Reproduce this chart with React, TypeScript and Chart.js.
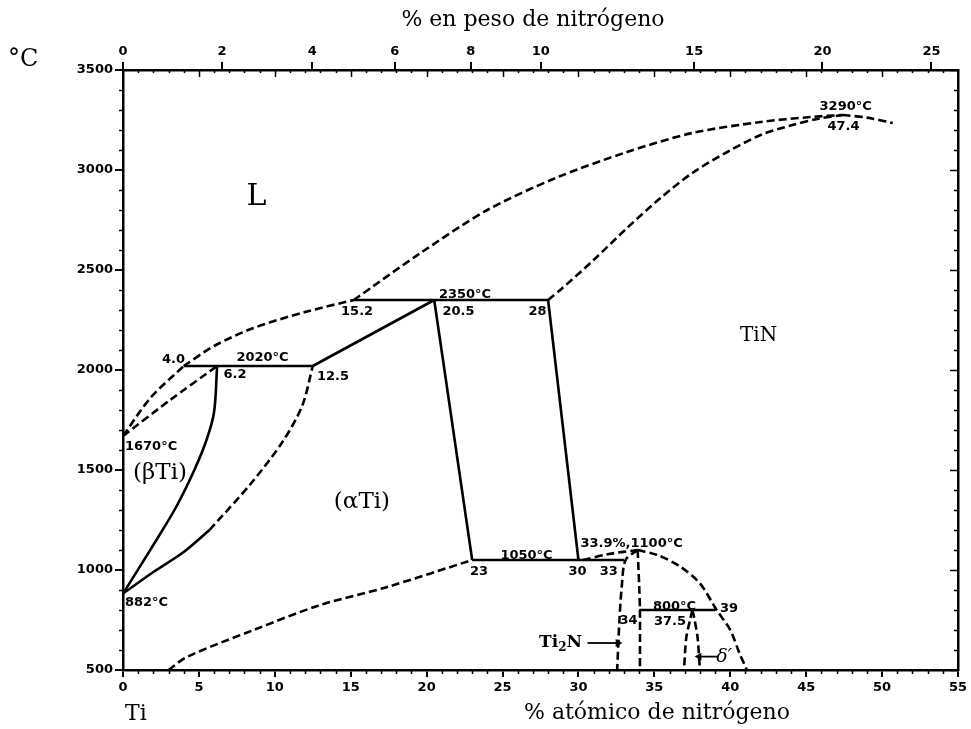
import React, { useEffect, useRef } from 'react';
import { Chart, registerables } from 'chart.js';

Chart.register(...registerables);

// ---------- axes ----------
const X_MIN = 0;
const X_MAX = 55; // at.% N
const Y_MIN = 500;
const Y_MAX = 3500; // °C
const atomicStep = 5;
const tempStep = 500;
const weightTickLabels = [0, 2, 4, 6, 8, 10, 15, 20, 25]; // wt.% N (top axis)
const M_TI = 47.867;
const M_N = 14.007;

// ---------- curves: [at.% N, °C] ----------
const liqBeta: number[][] = [[0, 1670], [1.8, 1860], [4.0, 2020]];
const liqAlpha: number[][] = [[4.0, 2020], [6.0, 2120], [8.6, 2210], [12.0, 2290], [15.2, 2350]];
const liqTiN: number[][] = [[15.2, 2350], [19.6, 2585], [24.0, 2800], [28.5, 2960], [33.2, 3090], [37.5, 3185], [42.0, 3240], [45.3, 3265], [47.4, 3275]];
const liqTiNRight: number[][] = [[47.4, 3275], [49.0, 3262], [50.7, 3235]];
const solTiN: number[][] = [[28.0, 2350], [28.8, 2400], [31.0, 2550], [33.2, 2710], [35.4, 2860], [37.5, 2985], [39.8, 3090], [42.0, 3175], [44.1, 3225], [45.9, 3258], [47.4, 3275]];
const solBeta: number[][] = [[0, 1670], [3.1, 1850], [6.2, 2020]];
const betaSolvus: number[][] = [[0, 882], [2.2, 1150], [3.5, 1315], [4.7, 1500], [5.5, 1650], [6.0, 1790], [6.2, 2020]];
const alphaTransusSolid: number[][] = [[0, 882], [2.0, 990], [4.0, 1090], [5.7, 1200]];
const alphaTransusDashed: number[][] = [[5.7, 1200], [8.4, 1430], [10.5, 1640], [11.8, 1820], [12.5, 2020]];
const iso2020: number[][] = [[4.0, 2020], [12.5, 2020]];
const iso2350: number[][] = [[15.2, 2350], [28.0, 2350]];
const iso1050: number[][] = [[23, 1050], [33, 1050]];
const iso800: number[][] = [[34, 800], [39, 800]];
const alphaLiq: number[][] = [[12.5, 2020], [20.5, 2350]];
const alphaRight: number[][] = [[20.5, 2350], [23, 1050]];
const tinLeft: number[][] = [[28, 2350], [30, 1050]];
const alphaSolvus: number[][] = [[3, 500], [4.2, 565], [8.6, 700], [13.0, 825], [17.4, 915], [23, 1050]];
const tinLowLeft: number[][] = [[30.3, 1050], [32.0, 1080], [33.9, 1100]];
const tinDome: number[][] = [[33.9, 1100], [35.2, 1075], [36.7, 1017], [38.0, 933], [39.1, 800], [40.0, 700], [40.6, 585], [41.1, 500]];
const ti2nLeft: number[][] = [[33.9, 1100], [33.1, 1050], [32.85, 915], [32.7, 750], [32.55, 500]];
const ti2nRight: number[][] = [[33.9, 1100], [34.0, 920], [34.05, 800], [34.05, 500]];
const deltaLeft: number[][] = [[37.5, 800], [37.35, 750], [37.1, 660], [36.95, 500]];
const deltaRight: number[][] = [[37.5, 800], [37.65, 750], [37.85, 660], [38.0, 500]];
const ti2nArrow: number[][] = [[30.6, 635], [32.6, 635]];
const deltaArrow: number[][] = [[39.2, 567], [37.95, 567]];

// ---------- annotations (text, at.% N, °C) ----------
const numLabels: [string, number, number][] = [
  ['1670°C', 0.13, 1615],
  ['882°C', 0.13, 835],
  ['4.0', 3.33, 2050],
  ['2020°C', 9.19, 2060],
  ['6.2', 7.38, 1975],
  ['12.5', 13.83, 1965],
  ['15.2', 15.42, 2290],
  ['2350°C', 22.53, 2375],
  ['20.5', 22.1, 2290],
  ['28', 27.3, 2290],
  ['3290°C', 47.6, 3315],
  ['47.4', 47.46, 3215],
  ['1050°C', 26.58, 1070],
  ['23', 23.45, 990],
  ['30', 29.94, 990],
  ['33', 32.0, 990],
  ['33.9%,1100°C', 33.5, 1130],
  ['34', 33.3, 745],
  ['800°C', 36.33, 815],
  ['37.5', 36.03, 740],
  ['39', 39.92, 805],
];
const phaseLabels: [string, number, number, number][] = [
  ['L', 8.79, 2865, 30],
  ['TiN', 41.86, 2170, 20],
  ['(βTi)', 2.44, 1485, 23],
  ['(αTi)', 15.74, 1340, 23],
];

const wtToAt = (w: number) => {
  const n = w / M_N;
  const t = (100 - w) / M_TI;
  return (n / (n + t)) * 100;
};

const pts = (arr: number[][]) => arr.map(([x, y]) => ({ x, y }));
const line = (arr: number[][], dashed: boolean, tension = 0) => ({
  data: pts(arr),
  showLine: true,
  borderColor: '#000',
  borderWidth: 2.6,
  borderDash: dashed ? [8, 4] : [],
  borderCapStyle: 'butt' as const,
  pointRadius: 0,
  tension,
  fill: false,
});
const arrow = (arr: number[][], rot: number) => ({
  data: pts(arr),
  showLine: true,
  borderColor: '#000',
  borderWidth: 1.8,
  pointRadius: [0, 4.5],
  pointStyle: 'triangle',
  pointRotation: rot,
  pointBackgroundColor: '#000',
  pointBorderColor: '#000',
  pointBorderWidth: 0,
  tension: 0,
  fill: false,
});

const SANS_BOLD = 'bold 13px "DejaVu Sans"';
const SERIF = '"DejaVu Serif"';

const decorPlugin = {
  id: 'decor',
  afterDraw(chart: any) {
    const { ctx, chartArea } = chart;
    const { left, right, top, bottom } = chartArea;
    const xs = chart.scales.x;
    const ys = chart.scales.y;
    ctx.save();
    ctx.strokeStyle = '#000';
    ctx.fillStyle = '#000';
    ctx.lineWidth = 1.5;
    ctx.beginPath();
    for (let a = X_MIN; a <= X_MAX; a += 1) {
      const px = Math.round(xs.getPixelForValue(a)) + 0.5;
      if (a % atomicStep !== 0) {
        ctx.moveTo(px, bottom);
        ctx.lineTo(px, bottom + 4);
        ctx.moveTo(px, top);
        ctx.lineTo(px, top + 3);
      } else if (a !== X_MIN && a !== X_MAX) {
        ctx.moveTo(px, top);
        ctx.lineTo(px, top + 7);
      }
    }
    for (let t = Y_MIN; t <= Y_MAX; t += 100) {
      const py = Math.round(ys.getPixelForValue(t)) + 0.5;
      if (t % tempStep !== 0) {
        ctx.moveTo(left - 4, py);
        ctx.lineTo(left, py);
        ctx.moveTo(right - 4, py);
        ctx.lineTo(right, py);
      } else {
        ctx.moveTo(right - 8, py);
        ctx.lineTo(right, py);
      }
    }
    ctx.stroke();

    // numeric annotations
    ctx.font = SANS_BOLD;
    ctx.textBaseline = 'middle';
    for (const [txt, a, t] of numLabels) {
      const px = xs.getPixelForValue(a);
      const py = ys.getPixelForValue(t);
      const isLeft = a < 0.5;
      ctx.textAlign = isLeft ? 'left' : 'center';
      ctx.fillText(txt, px, py);
    }
    // phase labels
    ctx.textAlign = 'center';
    for (const [txt, a, t, size] of phaseLabels) {
      ctx.font = `${size}px ${SERIF}`;
      ctx.fillText(txt, xs.getPixelForValue(a), ys.getPixelForValue(t));
    }
    // Ti2N
    {
      const rightEdge = xs.getPixelForValue(30.24);
      const py = ys.getPixelForValue(635);
      const big = `bold 17px ${SERIF}`;
      const small = `bold 12px ${SERIF}`;
      ctx.font = big;
      const wTi = ctx.measureText('Ti').width;
      const wN = ctx.measureText('N').width;
      ctx.font = small;
      const w2 = ctx.measureText('2').width;
      const x0 = rightEdge - (wTi + w2 + wN);
      ctx.textAlign = 'left';
      ctx.font = big;
      ctx.fillText('Ti', x0, py);
      ctx.font = small;
      ctx.fillText('2', x0 + wTi, py + 5);
      ctx.font = big;
      ctx.fillText('N', x0 + wTi + w2, py);
    }
    // delta prime
    ctx.font = `italic 19px ${SERIF}`;
    ctx.textAlign = 'center';
    ctx.fillText('δ′', xs.getPixelForValue(39.6), ys.getPixelForValue(565));

    // titles
    ctx.font = `22px ${SERIF}`;
    ctx.textAlign = 'center';
    ctx.fillText('% en peso de nitrógeno', 533, 20);
    ctx.fillText('% atómico de nitrógeno', 657, 713);
    ctx.textAlign = 'left';
    ctx.fillText('Ti', left + 2, 714);
    ctx.font = `24px ${SERIF}`;
    ctx.fillText('°C', 8, 60);
    ctx.restore();
  },
};

const tickFont = { family: 'DejaVu Sans', weight: 'bold' as const, size: 13 };

export default function App() {
  const ref = useRef<HTMLCanvasElement>(null);
  useEffect(() => {
    const datasets: any[] = [
      line(liqBeta, true, 0.3),
      line(liqAlpha, true, 0.3),
      line(liqTiN, true, 0.3),
      line(liqTiNRight, true, 0.3),
      line(solTiN, true, 0.3),
      line(solBeta, true, 0.2),
      line(betaSolvus, false, 0.3),
      line(alphaTransusSolid, false, 0.3),
      line(alphaTransusDashed, true, 0.3),
      line(iso2020, false),
      line(iso2350, false),
      line(iso1050, false),
      line(iso800, false),
      line(alphaLiq, false),
      line(alphaRight, false),
      line(tinLeft, false),
      line(alphaSolvus, true, 0.3),
      line(tinLowLeft, true, 0.3),
      line(tinDome, true, 0.3),
      line(ti2nLeft, true, 0.3),
      line(ti2nRight, true, 0.3),
      line(deltaLeft, true, 0.3),
      line(deltaRight, true, 0.3),
      arrow(ti2nArrow, 90),
      arrow(deltaArrow, 270),
    ];
    const chart = new Chart(ref.current as HTMLCanvasElement, {
      type: 'scatter',
      data: { datasets },
      plugins: [decorPlugin],
      options: {
        responsive: false,
        animation: false,
        devicePixelRatio: 1,
        layout: { padding: 0 },
        plugins: { legend: { display: false }, tooltip: { enabled: false } },
        scales: {
          x: {
            type: 'linear',
            position: 'bottom',
            min: X_MIN,
            max: X_MAX,
            afterFit: (s: any) => { s.height = 59; },
            ticks: { stepSize: atomicStep, font: tickFont, color: '#000', padding: 3, maxRotation: 0, callback: (v: any) => String(v) },
            grid: { display: true, drawOnChartArea: false, tickLength: 7, color: '#000', lineWidth: 2 },
            border: { display: true, color: '#000', width: 2.5 },
          },
          x2: {
            type: 'linear',
            position: 'top',
            min: X_MIN,
            max: X_MAX,
            afterFit: (s: any) => { s.height = 70; },
            afterBuildTicks: (s: any) => {
              s.ticks = weightTickLabels.map((w) => ({ value: wtToAt(w) }));
            },
            ticks: {
              autoSkip: false,
              font: tickFont,
              color: '#000',
              padding: 3,
              maxRotation: 0,
              callback: (_v: any, i: number) => String(weightTickLabels[i]),
            },
            grid: { display: true, drawOnChartArea: false, tickLength: 8, color: '#000', lineWidth: 2 },
            border: { display: true, color: '#000', width: 2.5 },
          },
          y: {
            type: 'linear',
            position: 'left',
            min: Y_MIN,
            max: Y_MAX,
            afterFit: (s: any) => { s.width = 123; },
            ticks: { stepSize: tempStep, font: tickFont, color: '#000', padding: 2, callback: (v: any) => String(v) },
            grid: { display: true, drawOnChartArea: false, tickLength: 8, color: '#000', lineWidth: 2 },
            border: { display: true, color: '#000', width: 2.5 },
          },
          y2: {
            type: 'linear',
            position: 'right',
            min: Y_MIN,
            max: Y_MAX,
            afterFit: (s: any) => { s.width = 13; },
            ticks: { display: false },
            grid: { display: false },
            border: { display: true, color: '#000', width: 2.5 },
          },
        },
      } as any,
    });
    return () => chart.destroy();
  }, []);
  return (
    <div style={{ position: 'fixed', left: 0, top: 0, width: 971, height: 729, background: '#fff' }}>
      <canvas ref={ref} width={971} height={729} style={{ display: 'block' }} />
    </div>
  );
}
